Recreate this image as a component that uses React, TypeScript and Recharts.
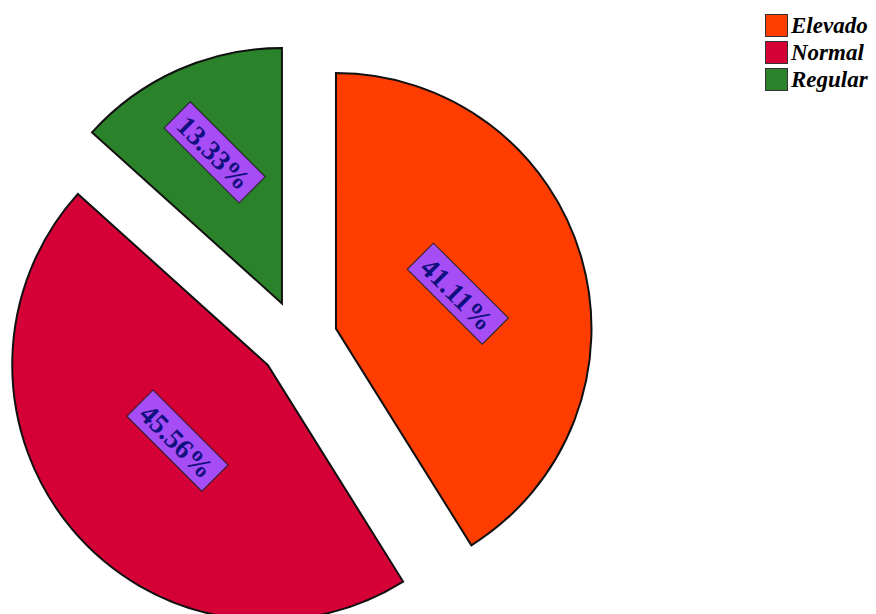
import { PieChart, Pie, Cell, Legend } from "recharts";

const categories = ["Elevado", "Normal", "Regular"];
const counts = [37, 41, 12];
const colors = ["#ff3d00", "#d40036", "#2a822a"];

const data = categories.map((name, i) => ({ name, value: counts[i] }));
const total = counts.reduce((a, b) => a + b, 0);

// pie geometry
const CX = 298;
const CY = 339.5;
const R = 255.5;
const EXPLODE = 39.5;
const RAD = Math.PI / 180;

// mid angle of each slice, measured clockwise from 12 o'clock
const midAngles = counts.map((v, i) => {
  const before = counts.slice(0, i).reduce((a, b) => a + b, 0);
  return ((before + v / 2) / total) * 360;
});

const renderLabel = (target: number) => (props: any) => {
  const { cx, cy, midAngle, outerRadius, percent, index } = props;
  if (index !== target) return null;
  const half = percent * Math.PI;
  const dist = (2 * outerRadius * Math.sin(half)) / (3 * half);
  const x = cx + dist * Math.cos(-midAngle * RAD);
  const y = cy + dist * Math.sin(-midAngle * RAD);
  return (
    <g transform={`translate(${x},${y}) rotate(45)`}>
      <rect x={-53} y={-18.5} width={106} height={37} fill="#a64df5" stroke="#222" strokeWidth={1} />
      <text
        x={0}
        y={1}
        textAnchor="middle"
        dominantBaseline="central"
        fontFamily="'Liberation Serif', serif"
        fontWeight="bold"
        fontSize={28}
        fill="#10107f"
      >
        {(percent * 100).toFixed(2)}%
      </text>
    </g>
  );
};

const LegendBox = () => (
  <div style={{ fontFamily: "'Liberation Serif', serif" }}>
    {categories.map((c, i) => (
      <div key={c} style={{ display: "flex", alignItems: "center", height: 27 }}>
        <div
          style={{
            width: 21,
            height: 21,
            background: colors[i],
            border: "1px solid #333",
            marginRight: 3,
          }}
        />
        <span style={{ fontStyle: "italic", fontWeight: "bold", fontSize: 23, color: "#000" }}>{c}</span>
      </div>
    ))}
  </div>
);

export default function App() {
  return (
    <div style={{ position: "absolute", left: 0, top: 0, background: "#fff" }}>
      <PieChart width={876} height={614} margin={{ top: 0, right: 0, bottom: 0, left: 0 }}>
        {categories.map((c, k) => {
          const a = midAngles[k] * RAD;
          return (
            <Pie
              key={c}
              data={data}
              dataKey="value"
              nameKey="name"
              cx={CX + EXPLODE * Math.sin(a)}
              cy={CY - EXPLODE * Math.cos(a)}
              outerRadius={R}
              startAngle={90}
              endAngle={-270}
              isAnimationActive={false}
              labelLine={false}
              label={renderLabel(k)}
              legendType="none"
            >
              {data.map((d, i) => (
                <Cell
                  key={d.name}
                  fill={i === k ? colors[i] : "none"}
                  stroke={i === k ? "#111" : "none"}
                  strokeWidth={2}
                />
              ))}
            </Pie>
          );
        })}
        <Legend
          layout="vertical"
          verticalAlign="top"
          align="right"
          wrapperStyle={{ left: 765, top: 12, width: 111 }}
          content={() => <LegendBox />}
        />
      </PieChart>
    </div>
  );
}
